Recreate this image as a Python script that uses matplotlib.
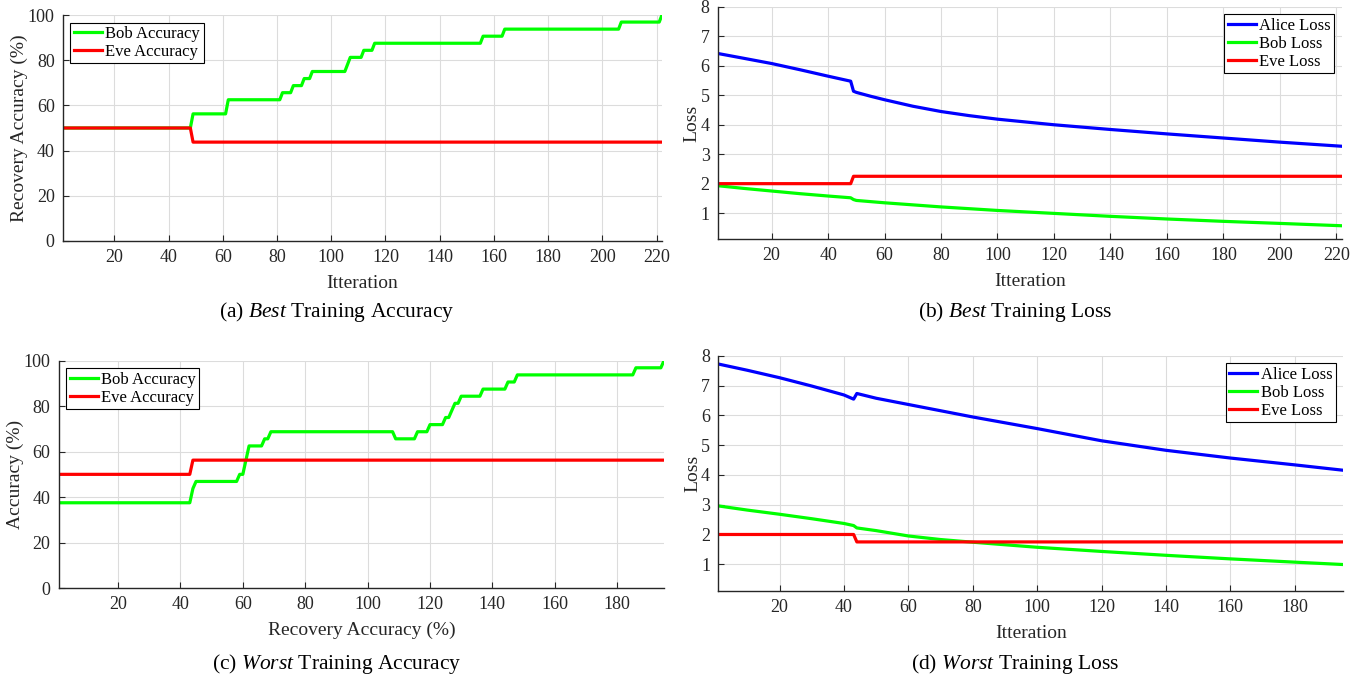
import numpy as np
import matplotlib
matplotlib.use("Agg")
import matplotlib.pyplot as plt

plt.rcParams['font.family'] = ['Liberation Serif', 'DejaVu Serif']
plt.rcParams['mathtext.fontset'] = 'custom'
plt.rcParams['mathtext.rm'] = 'Liberation Serif'
plt.rcParams['mathtext.it'] = 'Liberation Serif:italic'

# (a) best training accuracy - step values
best_bob_acc_x = [1, 48, 49, 61, 62, 81, 82, 85, 86, 89, 90, 92, 93, 105, 106, 107, 111, 112,
                  115, 116, 155, 156, 163, 164, 206, 207, 221, 222]
best_bob_acc_y = [50, 50, 56.25, 56.25, 62.5, 62.5, 65.625, 65.625, 68.75, 68.75, 71.875, 71.875,
                  75, 75, 78.125, 81.25, 81.25, 84.375, 84.375, 87.5, 87.5, 90.625, 90.625, 93.75,
                  93.75, 96.875, 96.875, 100]
best_eve_acc_x = [1, 48, 49, 222]
best_eve_acc_y = [50, 50, 43.75, 43.75]

# (b) best training loss
best_iter = [1, 10, 20, 30, 40, 48, 49, 50, 55, 60, 70, 80, 90, 100, 120, 140, 160, 180, 200, 222]
best_alice_loss = [6.42, 6.26, 6.08, 5.87, 5.65, 5.48, 5.14, 5.10, 4.97, 4.85, 4.63, 4.45, 4.31,
                   4.19, 4.00, 3.84, 3.69, 3.55, 3.41, 3.27]
best_bob_loss = [1.93, 1.84, 1.75, 1.66, 1.58, 1.52, 1.46, 1.43, 1.39, 1.35, 1.28, 1.21, 1.15,
                 1.09, 0.99, 0.89, 0.80, 0.72, 0.65, 0.57]
best_eve_loss_x = [1, 48, 49, 222]
best_eve_loss_y = [2.0, 2.0, 2.25, 2.25]

# (c) worst training accuracy
worst_bob_acc_x = [1, 43, 44, 45, 58, 59, 60, 61, 62, 66, 67, 68, 69, 108, 109, 115, 116, 119, 120,
                   124, 125, 126, 127, 128, 129, 130, 136, 137, 144, 145, 147, 148, 185, 186, 194, 195]
worst_bob_acc_y = [37.5, 37.5, 43.75, 46.875, 46.875, 50, 50, 56.25, 62.5, 62.5, 65.625, 65.625,
                   68.75, 68.75, 65.625, 65.625, 68.75, 68.75, 71.875, 71.875, 75, 75, 78.125, 81.25,
                   81.25, 84.375, 84.375, 87.5, 87.5, 90.625, 90.625, 93.75, 93.75, 96.875, 96.875, 100]
worst_eve_acc_x = [1, 43, 44, 195]
worst_eve_acc_y = [50, 50, 56.25, 56.25]

# (d) worst training loss
worst_iter = [1, 10, 20, 30, 40, 43, 44, 50, 60, 70, 80, 100, 120, 140, 160, 180, 195]
worst_alice_loss = [7.73, 7.52, 7.27, 6.99, 6.69, 6.55, 6.74, 6.58, 6.37, 6.16, 5.95, 5.56, 5.15,
                    4.83, 4.57, 4.34, 4.16]
worst_bob_loss = [2.96, 2.82, 2.68, 2.53, 2.37, 2.30, 2.22, 2.13, 1.95, 1.83, 1.74, 1.57, 1.43,
                  1.30, 1.18, 1.07, 0.99]
worst_eve_loss_x = [1, 43, 44, 195]
worst_eve_loss_y = [2.0, 2.0, 1.75, 1.75]

GREEN = (0, 1, 0)
RED = (1, 0, 0)
BLUE = (0, 0, 1)
AX_COL = '#262626'
LW = 2.3

fig = plt.figure(figsize=(13.57, 6.79), dpi=100)


def style_axes(ax, xmax, ylim, yticks, xlabel, ylabel):
    ax.set_xlim(1, xmax)
    ax.set_ylim(*ylim)
    ax.set_yticks(yticks)
    ax.set_xticks(np.arange(20, xmax + 1, 20))
    ax.grid(True, color='#dcdcdc', linewidth=0.8)
    ax.set_axisbelow(True)
    for s in ['top', 'right']:
        ax.spines[s].set_visible(False)
    for s in ['left', 'bottom']:
        ax.spines[s].set_color(AX_COL)
        ax.spines[s].set_linewidth(1.0)
    ax.tick_params(direction='in', length=4, width=0.8, colors=AX_COL, labelsize=13, pad=6)
    ax.set_xlabel(xlabel, fontsize=14, color=AX_COL, labelpad=6)
    ax.set_ylabel(ylabel, fontsize=14, color=AX_COL, labelpad=0)


def add_legend(ax, loc):
    leg = ax.legend(loc=loc, fontsize=12, frameon=True, fancybox=False, framealpha=1,
                    edgecolor='black', handlelength=1.7, handletextpad=0.2,
                    labelspacing=0.12, borderaxespad=0.45, borderpad=0.2)
    leg.get_frame().set_linewidth(0.8)


# (a)
ax_a = fig.add_axes([0.0464, 0.6451, 0.4414, 0.3328])
ax_a.plot(best_bob_acc_x, best_bob_acc_y, color=GREEN, lw=LW, label='Bob Accuracy')
ax_a.plot(best_eve_acc_x, best_eve_acc_y, color=RED, lw=LW, label='Eve Accuracy')
style_axes(ax_a, 222, (0, 100), np.arange(0, 101, 20), 'Itteration', 'Recovery Accuracy (%)')
add_legend(ax_a, 'upper left')

# (b)
ax_b = fig.add_axes([0.5291, 0.6480, 0.4598, 0.3417])
ax_b.plot(best_iter, best_alice_loss, color=BLUE, lw=LW, label='Alice Loss')
ax_b.plot(best_iter, best_bob_loss, color=GREEN, lw=LW, label='Bob Loss')
ax_b.plot(best_eve_loss_x, best_eve_loss_y, color=RED, lw=LW, label='Eve Loss')
style_axes(ax_b, 222, (0.12, 8), np.arange(1, 9), 'Itteration', 'Loss')
add_legend(ax_b, 'upper right')

# (c)
ax_c = fig.add_axes([0.0433, 0.1340, 0.4460, 0.3348])
ax_c.plot(worst_bob_acc_x, worst_bob_acc_y, color=GREEN, lw=LW, label='Bob Accuracy')
ax_c.plot(worst_eve_acc_x, worst_eve_acc_y, color=RED, lw=LW, label='Eve Accuracy')
style_axes(ax_c, 195, (0, 100), np.arange(0, 101, 20), 'Recovery Accuracy (%)', 'Accuracy (%)')
add_legend(ax_c, 'upper left')

# (d)
ax_d = fig.add_axes([0.5294, 0.1296, 0.4603, 0.3461])
ax_d.plot(worst_iter, worst_alice_loss, color=BLUE, lw=LW, label='Alice Loss')
ax_d.plot(worst_iter, worst_bob_loss, color=GREEN, lw=LW, label='Bob Loss')
ax_d.plot(worst_eve_loss_x, worst_eve_loss_y, color=RED, lw=LW, label='Eve Loss')
style_axes(ax_d, 195, (0.1, 8), np.arange(1, 9), 'Itteration', 'Loss')
add_legend(ax_d, 'upper right')

# sub-captions
cap_kw = dict(ha='center', va='center', fontsize=15.5, color='black')
fig.text(337 / 1357, 1 - 312 / 679, r'(a) $\mathit{Best}$ Training Accuracy', **cap_kw)
fig.text(1015 / 1357, 1 - 312 / 679, r'(b) $\mathit{Best}$ Training Loss', **cap_kw)
fig.text(337 / 1357, 1 - 664 / 679, r'(c) $\mathit{Worst}$ Training Accuracy', **cap_kw)
fig.text(1015 / 1357, 1 - 664 / 679, r'(d) $\mathit{Worst}$ Training Loss', **cap_kw)

fig.savefig('out.png', dpi=100)
